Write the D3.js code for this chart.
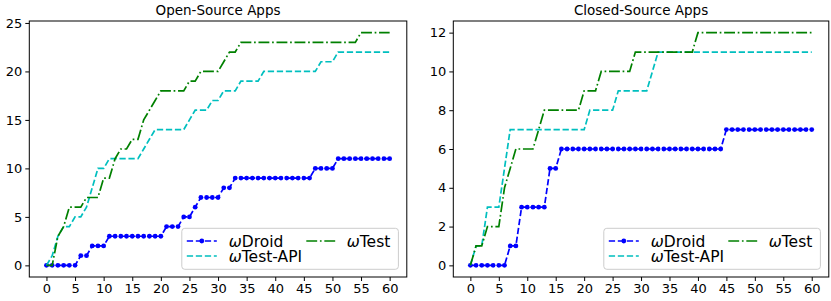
<!DOCTYPE html>
<html>
<head>
<meta charset="utf-8">
<script src="https://cdn.jsdelivr.net/npm/d3@7"></script>
<style>
  html, body { margin: 0; padding: 0; background: #fff; }
  svg { display: block; font-family: "DejaVu Sans", sans-serif; }
</style>
</head>
<body>
<script>
// ---------- data ----------
const iterations = d3.range(0, 61);
const xTicks = [0, 5, 10, 15, 20, 25, 30, 35, 40, 45, 50, 55, 60];
const seriesNames = ["ωDroid", "ωTest-API", "ωTest"];
const panelTitles = ["Open-Source Apps", "Closed-Source Apps"];

const openDroid = [0,0,0,0,0,0,1,1,2,2,2,3,3,3,3,3,3,3,3,3,3,4,4,4,5,5,6,7,7,7,7,8,8,
  9,9,9,9,9,9,9,9,9,9,9,9,9,9,10,10,10,10,11,11,11,11,11,11,11,11,11,11];
const openApi = [0,1,3,4,4,5,5,6,8,10,10,11,11,11,11,11,11,12,13,14,14,14,14,14,14,15,16,16,16,
  17,17,18,18,18,19,19,19,19,20,20,20,20,20,20,20,20,20,20,21,21,21,22,22,22,22,22,22,22,22,22,22];
const openTest = [0,0,3,4,6,6,6,7,7,7,9,9,11,12,12,13,13,15,16,17,18,18,18,18,18,19,19,20,20,20,20,
  21,22,22,23,23,23,23,23,23,23,23,23,23,23,23,23,23,23,23,23,23,23,23,23,24,24,24,24,24,24];
const openYTicks = [0, 5, 10, 15, 20, 25];

const closedDroid = [0,0,0,0,0,0,0,1,1,3,3,3,3,3,5,5,6,6,6,6,6,6,6,6,6,6,6,6,6,6,6,6,6,6,6,6,
  6,6,6,6,6,6,6,6,6,7,7,7,7,7,7,7,7,7,7,7,7,7,7,7,7];
const closedApi = [0,1,1,3,3,3,5,7,7,7,7,7,7,7,7,7,7,7,7,7,7,8,8,8,8,8,9,9,9,9,9,9,10,
  11,11,11,11,11,11,11,11,11,11,11,11,11,11,11,11,11,11,11,11,11,11,11,11,11,11,11,11];
const closedTest = [0,1,1,2,2,2,4,5,6,6,6,6,7,8,8,8,8,8,8,8,9,9,9,10,10,10,10,10,10,
  11,11,11,11,11,11,11,11,11,11,11,12,12,12,12,12,12,12,12,12,12,12,12,12,12,12,12,12,12,12,12,12];
const closedYTicks = [0, 2, 4, 6, 8, 10, 12];

// ---------- layout / style ----------
const W = 831, H = 301;
const panels = [
  { title: panelTitles[0], series: [openDroid, openApi, openTest], yTicks: openYTicks, yDom: [-1.2, 25.2], x0: 29.3, x1: 406.8 },
  { title: panelTitles[1], series: [closedDroid, closedApi, closedTest], yTicks: closedYTicks, yDom: [-0.6, 12.6], x0: 453.3, x1: 828.8 }
];
const plotTop = 21, plotBottom = 277;
const colors = ["#0000ff", "#00bfbf", "#008000"];
const lw = 1.7;
const dashes = [`${3.7*lw},${1.6*lw}`, `${3.7*lw},${1.6*lw}`, `${6.4*lw},${1.6*lw},${1*lw},${1.6*lw}`];

const svg = d3.select("body").append("svg").attr("width", W).attr("height", H);
svg.append("rect").attr("width", W).attr("height", H).attr("fill", "#fff");

panels.forEach(p => {
  const x = d3.scaleLinear().domain([-3, 63]).range([p.x0, p.x1]);
  const y = d3.scaleLinear().domain(p.yDom).range([plotBottom, plotTop]);
  const g = svg.append("g");

  // axes
  const xa = g.append("g").attr("transform", `translate(0,${plotBottom})`)
    .call(d3.axisBottom(x).tickValues(xTicks).tickSize(4).tickPadding(3).tickFormat(d3.format("d")));
  const ya = g.append("g").attr("transform", `translate(${p.x0},0)`)
    .call(d3.axisLeft(y).tickValues(p.yTicks).tickSize(4).tickPadding(3).tickFormat(d3.format("d")));
  [xa, ya].forEach(a => {
    a.select(".domain").remove();
    a.selectAll("text").attr("font-size", 13).attr("fill", "#000").attr("font-family", "DejaVu Sans");
    a.selectAll("line").attr("stroke", "#000").attr("stroke-width", 1);
  });

  // lines
  p.series.forEach((s, i) => {
    const line = d3.line().x((d, j) => x(iterations[j])).y(d => y(d));
    g.append("path").datum(s)
      .attr("d", line)
      .attr("fill", "none")
      .attr("stroke", colors[i])
      .attr("stroke-width", lw)
      .attr("stroke-dasharray", dashes[i]);
    if (i === 0) {
      g.selectAll(null).data(s).enter().append("circle")
        .attr("cx", (d, j) => x(iterations[j]))
        .attr("cy", d => y(d))
        .attr("r", 2.4)
        .attr("fill", colors[0]);
    }
  });

  // frame
  g.append("rect").attr("x", p.x0).attr("y", plotTop)
    .attr("width", p.x1 - p.x0).attr("height", plotBottom - plotTop)
    .attr("fill", "none").attr("stroke", "#000").attr("stroke-width", 1);

  // title
  g.append("text").attr("x", (p.x0 + p.x1) / 2).attr("y", 15)
    .attr("text-anchor", "middle").attr("font-size", 13.5).attr("fill", "#000")
    .text(p.title);

  // legend
  const L = p.x1 - 225, T = 228.3;
  const lg = g.append("g");
  lg.append("rect").attr("x", L).attr("y", T).attr("width", 216.6).attr("height", 41)
    .attr("rx", 3).attr("fill", "#fff").attr("fill-opacity", 0.8)
    .attr("stroke", "#cccccc").attr("stroke-width", 1);
  const entries = [
    { i: 0, hx: L + 5, tx: L + 47, cy: 241 },
    { i: 1, hx: L + 5, tx: L + 47, cy: 256 },
    { i: 2, hx: L + 124.5, tx: L + 165, cy: 241 }
  ];
  entries.forEach(e => {
    lg.append("line").attr("x1", e.hx).attr("x2", e.hx + 30)
      .attr("y1", e.cy).attr("y2", e.cy)
      .attr("stroke", colors[e.i]).attr("stroke-width", lw)
      .attr("stroke-dasharray", dashes[e.i]);
    if (e.i === 0) {
      lg.append("circle").attr("cx", e.hx + 15).attr("cy", e.cy).attr("r", 2.4).attr("fill", colors[0]);
    }
    const t = lg.append("text").attr("x", e.tx).attr("y", e.cy + 5.5)
      .attr("font-size", 15.5).attr("fill", "#000");
    t.append("tspan").attr("font-style", "italic").text(seriesNames[e.i].slice(0, 1));
    t.append("tspan").text(seriesNames[e.i].slice(1));
  });
});
</script>
</body>
</html>
